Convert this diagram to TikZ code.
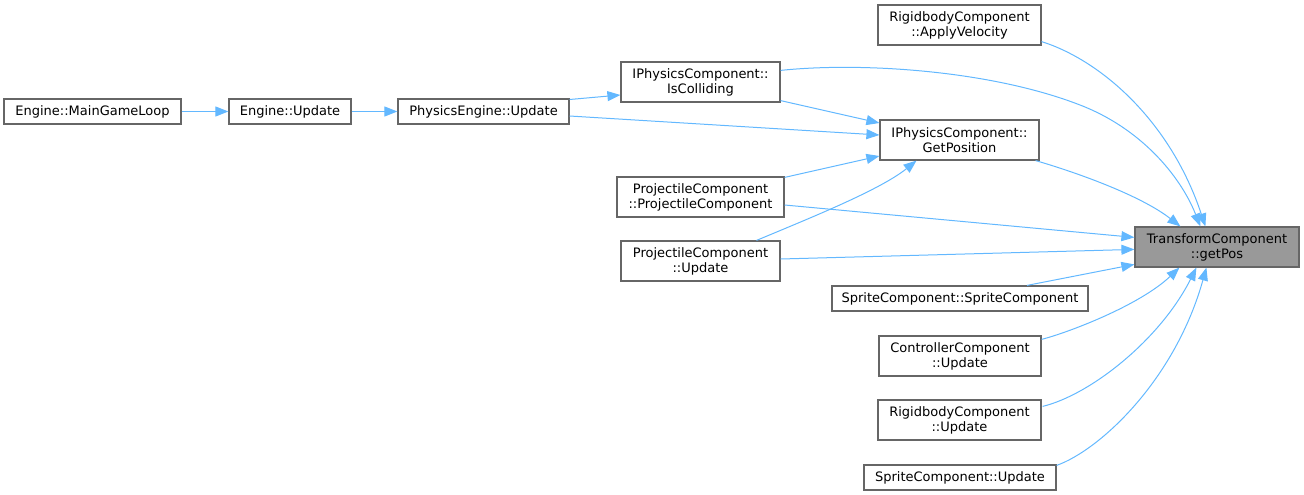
\documentclass[tikz,border=0pt]{standalone}
\usepackage{fontspec}
\setmainfont{DejaVu Sans}
\usetikzlibrary{calc,arrows.meta}
\definecolor{edgeblue}{HTML}{63B8FF}
\definecolor{boxline}{HTML}{666666}
\definecolor{hlfill}{HTML}{999999}
\tikzset{
  fn/.style={draw=boxline, line width=1.2pt, fill=white, rectangle, inner sep=0pt, align=center,
    font=\fontsize{13}{15}\selectfont, text=black},
  hl/.style={fn, fill=hlfill},
  call/.style={draw=edgeblue, line width=1pt, -{Triangle[length=13pt,width=10pt]}},
}
\begin{document}
\begin{tikzpicture}[x=1pt,y=-1pt]
\useasboundingbox (0,0) rectangle (1304,495);
% nodes
\node[fn, minimum width=177, minimum height=25] (main) at (92.5,111.5) {Engine::MainGameLoop};
\node[fn, minimum width=122, minimum height=25] (eup) at (290,111.5) {Engine::Update};
\node[fn, minimum width=171, minimum height=25] (peup) at (483.5,111.5) {PhysicsEngine::Update};
\node[fn, minimum width=159, minimum height=40] (iscol) at (700.5,82) {IPhysicsComponent::\\IsColliding};
\node[fn, minimum width=163, minimum height=40] (applyv) at (959.5,25) {RigidbodyComponent\\::ApplyVelocity};
\node[fn, minimum width=159, minimum height=40] (getposition) at (959.5,140) {IPhysicsComponent::\\GetPosition};
\node[fn, minimum width=167, minimum height=40] (projc) at (700.5,197) {ProjectileComponent\\::ProjectileComponent};
\node[fn, minimum width=159, minimum height=40] (proju) at (700.5,261) {ProjectileComponent\\::Update};
\node[hl, minimum width=164, minimum height=40] (tp) at (1217,247) {TransformComponent\\::getPos};
\node[fn, minimum width=256, minimum height=25] (spritec) at (960,298.5) {SpriteComponent::SpriteComponent};
\node[fn, minimum width=162, minimum height=40] (ctrl) at (960,356) {ControllerComponent\\::Update};
\node[fn, minimum width=163, minimum height=40] (rbu) at (959.5,420) {RigidbodyComponent\\::Update};
\node[fn, minimum width=192, minimum height=25] (spu) at (960,477.5) {SpriteComponent::Update};
% edges
\draw[call] (main.east) -- (eup.west);
\draw[call] (eup.east) -- (peup.west);
\draw[call] ($(peup.east)+(0,-12)$) -- ($(iscol.west)+(0,13)$);
\draw[call] ($(peup.east)+(0,4.5)$) -- ($(getposition.west)+(0,-5)$);
\draw[call] ($(iscol.south east)+(0,-2)$) -- ($(getposition.west)+(0,-17)$);
\draw[call] ($(projc.north east)+(0,1)$) -- ($(getposition.west)+(0,16)$);
\draw[call] ($(proju.north)+(56,0)$) .. controls (810,218) and (880,190) .. ($(getposition.south)+(-43,0)$);
\draw[call] ($(iscol.north east)+(0,9)$) .. controls (860,62) and (990,70) .. (1080,105)
   .. controls (1140,128) and (1180,175) .. ($(tp.north west)+(66,0)$);
\draw[call] ($(applyv.south east)+(0,-4)$) .. controls (1100,60) and (1170,120) .. ($(tp.north west)+(71,0)$);
\draw[call] ($(getposition.south east)+(-4,0)$) .. controls (1075,172) and (1140,195) .. ($(tp.north west)+(46,0)$);
\draw[call] ($(projc.east)+(0,8)$) -- ($(tp.north west)+(0,11)$);
\draw[call] ($(proju.east)+(0,-2)$) -- ($(tp.north west)+(0,23)$);
\draw[call] ($(spritec.north)+(67,0)$) -- ($(tp.north west)+(0,38)$);
\draw[call] ($(ctrl.north east)+(0,4)$) .. controls (1070,332) and (1140,305) .. ($(tp.south west)+(45,0)$);
\draw[call] ($(rbu.north east)+(1,7)$) .. controls (1090,395) and (1160,340) .. ($(tp.south west)+(62,0)$);
\draw[call] ($(spu.north east)+(0,1)$) .. controls (1100,450) and (1175,380) .. ($(tp.south west)+(72,0)$);
\end{tikzpicture}
\end{document}
